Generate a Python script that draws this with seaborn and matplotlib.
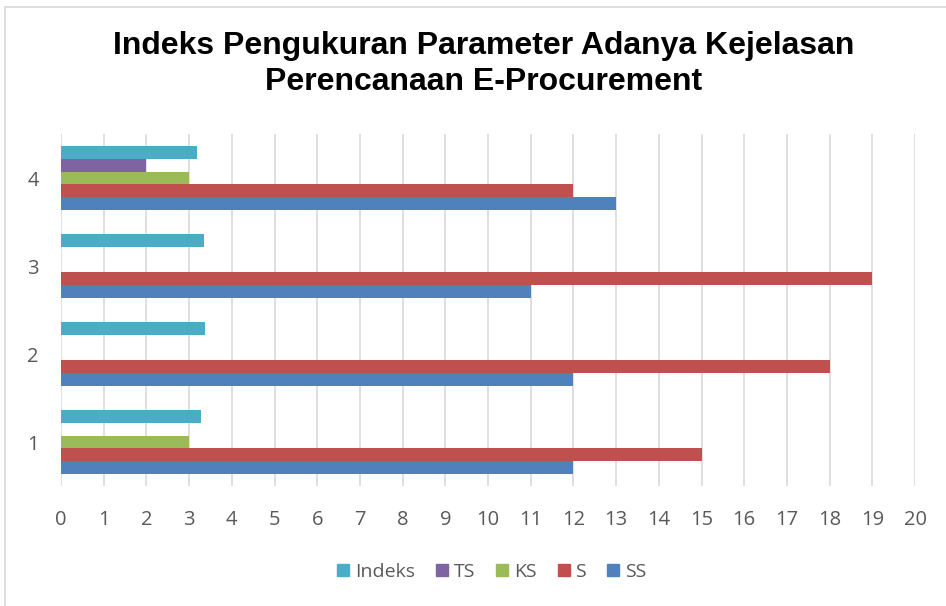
# Import libraries
import pandas as pd
import seaborn as sns
import matplotlib.pyplot as plt
from matplotlib.lines import Line2D

# Chart data
categories = ['1', '2', '3', '4']
series = ['Indeks', 'TS', 'KS', 'S', 'SS']
indeks = [3.28, 3.37, 3.36, 3.18]
ts = [0, 0, 0, 2]
ks = [3, 0, 0, 3]
s = [15, 18, 19, 12]
ss = [12, 12, 11, 13]
x_ticks = list(range(0, 21))

colors = ['#4BACC6', '#8064A2', '#9BBB59', '#C0504D', '#4F81BD']

# Long-form table for seaborn
rows = []
for name, vals in zip(series, [indeks, ts, ks, s, ss]):
    for cat, v in zip(categories, vals):
        rows.append({'kategori': cat, 'seri': name, 'nilai': v})
df = pd.DataFrame(rows)

sns.set_style("white")
plt.rcParams['font.family'] = ['Open Sans', 'DejaVu Sans']

fig = plt.figure(figsize=(9.46, 6.06), dpi=100)
ax = fig.add_axes([61 / 946, 1 - 486 / 606, (915 - 61) / 946, (486 - 134) / 606])

sns.barplot(data=df, y='kategori', x='nilai', hue='seri', orient='h',
            order=categories[::-1], hue_order=series, palette=colors,
            width=0.73, dodge=True, saturation=1, errorbar=None, ax=ax,
            linewidth=0, zorder=3)

ax.set_xlim(0, 20)
ax.set_xticks(x_ticks)
ax.set_xlabel('')
ax.set_ylabel('')
ax.grid(axis='x', color='#D9D9D9', linewidth=1.2, zorder=0)
ax.grid(axis='y', visible=False)
for sp in ax.spines.values():
    sp.set_visible(False)
ax.tick_params(axis='both', length=0, labelsize=14.5, labelcolor='#595959')
ax.tick_params(axis='x', pad=17)
ax.tick_params(axis='y', pad=16)

# Legend at the bottom
ax.legend_.remove()
handles = [Line2D([0], [0], marker='s', linestyle='', markersize=9,
                  markerfacecolor=c, markeredgecolor=c) for c in colors]
fig.legend(handles, series, loc='center', bbox_to_anchor=(488 / 946, 1 - 572 / 606),
           ncol=5, frameon=False, fontsize=14, handletextpad=-0.1,
           columnspacing=0.7, handlelength=1.4, labelcolor='#595959')

fig.text(484 / 946, 1 - 64 / 606,
         'Indeks Pengukuran Parameter Adanya Kejelasan\nPerencanaan E-Procurement',
         ha='center', va='center', fontsize=23, fontweight='bold', color='black',
         family=['Liberation Sans', 'DejaVu Sans'], linespacing=1.3)

# Chart frame
fig.add_artist(Line2D([5 / 946, 5 / 946], [0, 1 - 7 / 606], color='#D9D9D9', linewidth=1.2))
fig.add_artist(Line2D([5 / 946, 1], [1 - 7 / 606, 1 - 7 / 606], color='#D9D9D9', linewidth=1.2))

fig.savefig('out.png', dpi=100)
